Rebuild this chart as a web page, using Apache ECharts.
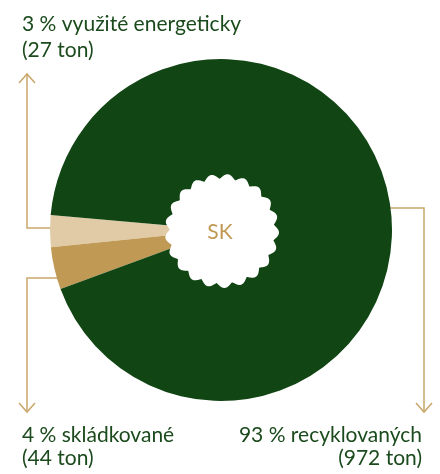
<!DOCTYPE html>
<html>
<head>
<meta charset="utf-8">
<script src="https://cdn.jsdelivr.net/npm/echarts@6/dist/echarts.min.js"></script>
<style>
html,body{margin:0;padding:0;background:#fff;}
#c{width:440px;height:474px;}
</style>
</head>
<body>
<div id="c"></div>
<script>
// Data
var names = ['využité energeticky', 'skládkované', 'recyklovaných'];
var percents = [3, 4, 93];
var tons = [27, 44, 972];
var centerLabel = 'SK';

var colors = ['#e1cba7', '#c09a55', '#114514'];
var textColor = '#1b4a1c';
var lineColor = '#c9a76b';
var fontFamily = 'Lato, "Open Sans", sans-serif';

var chart = echarts.init(document.getElementById('c'), null, {renderer: 'canvas'});

var CX = 221, CY = 230, R = 171;

chart.setOption({
  animation: false,
  series: [{
    type: 'pie',
    center: [CX, CY],
    radius: [0, R],
    startAngle: 175,
    clockwise: false,
    label: {show: false},
    labelLine: {show: false},
    emphasis: {disabled: true},
    itemStyle: {borderWidth: 0},
    data: names.map(function (n, i) {
      return {name: n, value: percents[i], itemStyle: {color: colors[i]}};
    })
  }]
});

// Scalloped hole (decoration)
function scallop(cx, cy) {
  var pts = [];
  var n = 21, N = 840, base = 52.3, amp = 4.7, off = 6 * Math.PI / 180;
  for (var k = 0; k < N; k++) {
    var t = k / N * Math.PI * 2;
    var c = (1 + Math.cos(n * (t - off))) / 2;
    var r = base + amp * Math.pow(c, 0.6);
    pts.push([cx + r * Math.sin(t), cy - r * Math.cos(t)]);
  }
  return pts;
}

function arrow(x, y, dir) {
  return {
    type: 'polyline',
    shape: {points: [[x - 8, y - dir * 9], [x, y], [x + 8, y - dir * 9]]},
    style: {stroke: lineColor, lineWidth: 1.5, fill: null}
  };
}

function label(i) {
  return percents[i] + ' % ' + names[i] + '\n(' + tons[i] + ' ton)';
}

chart.setOption({
  graphic: [
    {type: 'polygon', shape: {points: scallop(CX + 1, CY + 1)}, style: {fill: '#fff'}, z: 10},
    {type: 'text', x: CX - 1, y: CY + 2, style: {text: centerLabel, fill: '#c09a55', font: '400 21px ' + fontFamily, textAlign: 'center', textVerticalAlign: 'middle'}, z: 11},
    // leader lines
    {type: 'polyline', shape: {points: [[27, 74], [27, 228], [51, 228]]}, style: {stroke: lineColor, lineWidth: 1.5, fill: null}},
    arrow(27, 74, -1),
    {type: 'polyline', shape: {points: [[58, 278], [27, 278], [27, 412]]}, style: {stroke: lineColor, lineWidth: 1.5, fill: null}},
    arrow(27, 412, 1),
    {type: 'polyline', shape: {points: [[390, 208], [424, 208], [424, 412]]}, style: {stroke: lineColor, lineWidth: 1.5, fill: null}},
    arrow(424, 412, 1),
    // labels
    {type: 'text', x: 22, y: 11, style: {text: label(0), fill: textColor, font: '400 21px ' + fontFamily, lineHeight: 26, textAlign: 'left'}},
    {type: 'text', x: 22, y: 424, style: {text: label(1), fill: textColor, font: '400 21px ' + fontFamily, lineHeight: 23, textAlign: 'left'}},
    {type: 'text', x: 422, y: 424, style: {text: label(2), fill: textColor, font: '400 21px ' + fontFamily, lineHeight: 23, textAlign: 'right'}}
  ]
});
</script>
</body>
</html>
